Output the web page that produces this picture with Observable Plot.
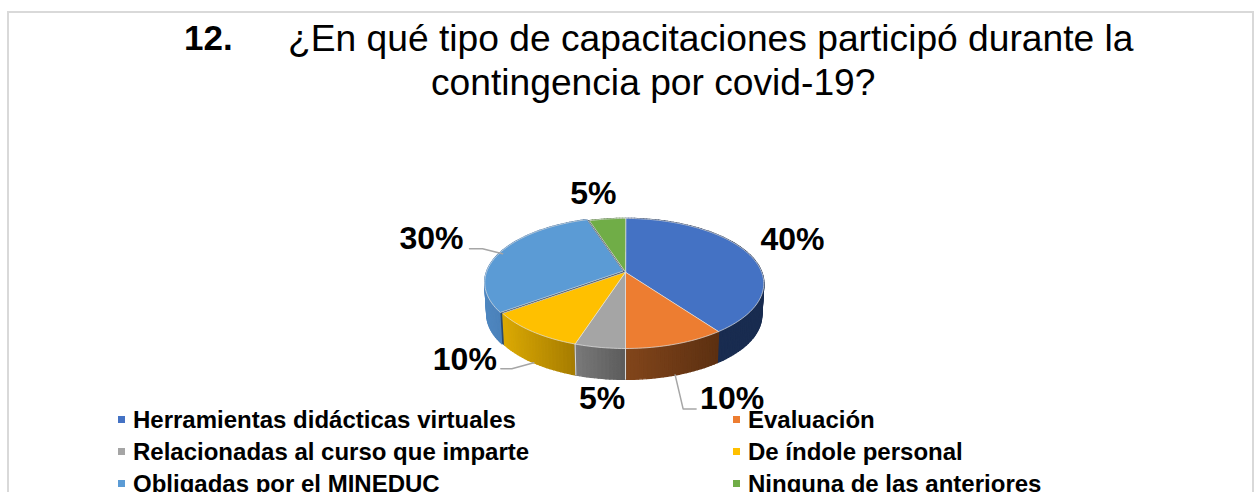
<!DOCTYPE html>
<html lang="es">
<head>
<meta charset="utf-8">
<script src="https://cdn.jsdelivr.net/npm/d3@7"></script>
<script src="https://cdn.jsdelivr.net/npm/@observablehq/plot@0.6"></script>
<style>
  html,body{margin:0;padding:0;background:#fff;}
  #stage{position:relative;width:1254px;height:492px;overflow:hidden;font-family:"Liberation Sans",Arial,sans-serif;color:#000;}
  #frame{position:absolute;left:7px;top:11px;width:1243px;height:600px;border:2px solid #d9d9d9;box-sizing:content-box;}
  .tl{position:absolute;white-space:pre;font-size:37.2px;line-height:44px;}
  .lg{position:absolute;font-weight:bold;font-size:24px;line-height:28px;white-space:pre;}
  .sw{position:absolute;width:7px;height:7px;}
  svg{position:absolute;left:0;top:0;background:transparent;}
</style>
</head>
<body>
<div id="stage"><div id="frame"></div></div>
<script>
const categories = ["Herramientas didácticas virtuales","Evaluación","Relacionadas al curso que imparte","De índole personal","Obligadas por el MINEDUC","Ninguna de las anteriores"];
const values = [40,10,5,10,30,5];
const labels = ["40%","10%","5%","10%","30%","5%"];
const topColors = ["#4472C4","#ED7D31","#A5A5A5","#FFC000","#5B9BD5","#70AD47"];
const wallLeft  = ["#1f3864","#82451b","#7a7a7a","#dcaa04","#4f87c0","#4a7a2c"];
const wallRight = ["#192c50","#5c3011","#5c5c5c","#a67c00","#3f73a8","#3f6a26"];
const titleNumber = "12.";
const titleLine1 = "¿En qué tipo de capacitaciones participó durante la";
const titleLine2 = "contingencia por covid-19?";

// layout
const W = 1254, H = 492, CX = 625, CY = 271.7, RX = 136.2, RY = 63.1, PERSP = -0.173, DEPTH = 32;
const px = p => p / RX, py = p => p / RY;
const total = d3.sum(values);
const cum = d3.cumsum(values);
const startOf = i => (i ? cum[i-1] : 0) / total * 360;
const endOf = i => cum[i] / total * 360;
function rim(theta, wall = 0) {
  const t = theta * Math.PI / 180, u = Math.sin(t), v = -Math.cos(t), w = 1 + PERSP * v;
  const k = wall ? 0.985 : 1;
  return [k * u / w, k * v / w + wall * py(DEPTH)];
}
const range = (a, b) => { const n = Math.max(2, Math.ceil((b - a) / 1.5)); return d3.range(n + 1).map(i => a + (b - a) * i / n); };

const wallRows = [];
function addWall(i, shift, colorFn, tag) {
  const ts = range(startOf(i), endOf(i));
  for (let k = 0; k < ts.length - 1; k++) {
    const a = rim(ts[k]), b = rim(ts[k+1]), c = rim(ts[k+1], 1), d = rim(ts[k], 1);
    const xa = (a[0]+b[0])/2;
    const f = colorFn(xa);
    [a,b,c,d].forEach(p => wallRows.push({z:`${tag}${i}-${k}`, x:p[0]+shift[0], y:p[1]+shift[1], c:f}));
  }
}
const NO_SHIFT = [0,0];
const SHIFT = [px(-2.5), py(-1)];
values.forEach((_, i) => {
  if (i === 4) addWall(i, NO_SHIFT, () => "#2a4a70", "u");
  else addWall(i, NO_SHIFT, x => {
    const s = rim(startOf(i)), e = rim(endOf(i));
    const lo = Math.min(s[0], e[0]), hi = Math.max(s[0], e[0]);
    return d3.interpolateRgb(wallLeft[i], wallRight[i])(Math.max(0, Math.min(1, (x - lo) / (hi - lo))));
  }, "w");
});
addWall(4, SHIFT, x => d3.interpolateRgb(wallLeft[4], wallRight[4])((x + 1.02) / 0.5), "s");
const backFirst = d3.groups(wallRows, d => d.z)
  .sort((p, q) => d3.ascending(d3.max(p[1], r => r.y), d3.max(q[1], r => r.y)))
  .flatMap(g => g[1]);

function slicePoly(i, shift = NO_SHIFT) {
  const pts = [[0, 0], ...range(startOf(i), endOf(i)).map(t => rim(t))];
  return pts.map(p => ({z:i, x:p[0]+shift[0], y:p[1]+shift[1], c:topColors[i]}));
}
const underRows = slicePoly(4).map(p => ({...p, c:"#2c3e50"}));
const topRows = values.flatMap((_, i) => slicePoly(i, i === 4 ? SHIFT : NO_SHIFT));

const seamRows = [2,3].flatMap(i => {
  const a = rim(startOf(i)), b = rim(startOf(i), 1);
  return [{z:i,x:a[0],y:a[1]},{z:i,x:b[0],y:b[1]}];
});

const mid = i => (startOf(i) + endOf(i)) / 2;
const labelOffset = [[44,-14,0],[57,24,1],[2,21,1],[-69,-3,1],[-71,-15,0],[-14,-25,0]];
const labelRows = values.map((_, i) => {
  const [ox, oy, wall] = labelOffset[i];
  const p = rim(mid(i), wall);
  return {x:p[0]+px(ox), y:p[1]+py(oy), t:labels[i]};
});
const leaderBend = {1:[[8,34],[21,34]], 3:[[-22,6],[-33,6]], 4:[[-20,-5],[-33,-5]]};
const leaderRows = Object.entries(leaderBend).flatMap(([i, bends]) => {
  const idx = +i, p = rim(mid(idx), idx === 4 ? 0 : 1);
  return [{z:idx,x:p[0],y:p[1]}, ...bends.map(b => ({z:idx,x:p[0]+px(b[0]),y:p[1]+py(b[1])}))];
});

const chart = Plot.plot({
  width:W, height:H, margin:0,
  x:{domain:[-1,1], range:[CX-RX, CX+RX], axis:null},
  y:{domain:[-1,1], range:[CY-RY, CY+RY], axis:null},
  color:{type:"identity"},
  style:{background:"transparent", overflow:"visible"},
  marks:[
    Plot.line(backFirst, {x:"x", y:"y", z:"z", fill:"c", stroke:"c", strokeWidth:1.4, strokeLinejoin:"round", curve:"linear-closed", sort:null}),
    Plot.line(seamRows, {x:"x", y:"y", z:"z", stroke:"#d8d8d8", strokeWidth:1}),
    Plot.line(underRows, {x:"x", y:"y", z:"z", fill:"c", stroke:"c", strokeWidth:0.5, curve:"linear-closed"}),
    Plot.line(topRows, {x:"x", y:"y", z:"z", fill:"c", stroke:"#e4e4e4", strokeWidth:0.7, curve:"linear-closed"}),
    Plot.line(leaderRows, {x:"x", y:"y", z:"z", stroke:"#a6a6a6", strokeWidth:1.5}),
    Plot.text(labelRows, {x:"x", y:"y", text:"t", fontSize:32, fontWeight:"bold", fill:"#000", fontFamily:"Liberation Sans, Arial, sans-serif", textAnchor:"middle", lineAnchor:"middle"})
  ]
});
const stage = document.getElementById("stage");
stage.appendChild(chart);

function addText(cls, txt, left, top, extra = {}) {
  const d = document.createElement("div");
  d.className = cls; d.textContent = txt;
  d.style.left = left + "px"; d.style.top = top + "px";
  Object.assign(d.style, extra);
  stage.appendChild(d);
}
addText("tl", titleNumber, 184, 16, {fontWeight:"bold", fontSize:"35px"});
addText("tl", titleLine1, 288, 16);
addText("tl", titleLine2, 431, 60);

const cols = [118, 733], rows = [406, 438, 470];
categories.forEach((c, i) => {
  const cx = cols[i % 2], top = rows[Math.floor(i / 2)];
  const s = document.createElement("div");
  s.className = "sw"; s.style.left = cx + "px"; s.style.top = (top + 10) + "px"; s.style.background = topColors[i];
  stage.appendChild(s);
  addText("lg", c, cx + 15, top);
});
</script>
</body>
</html>
